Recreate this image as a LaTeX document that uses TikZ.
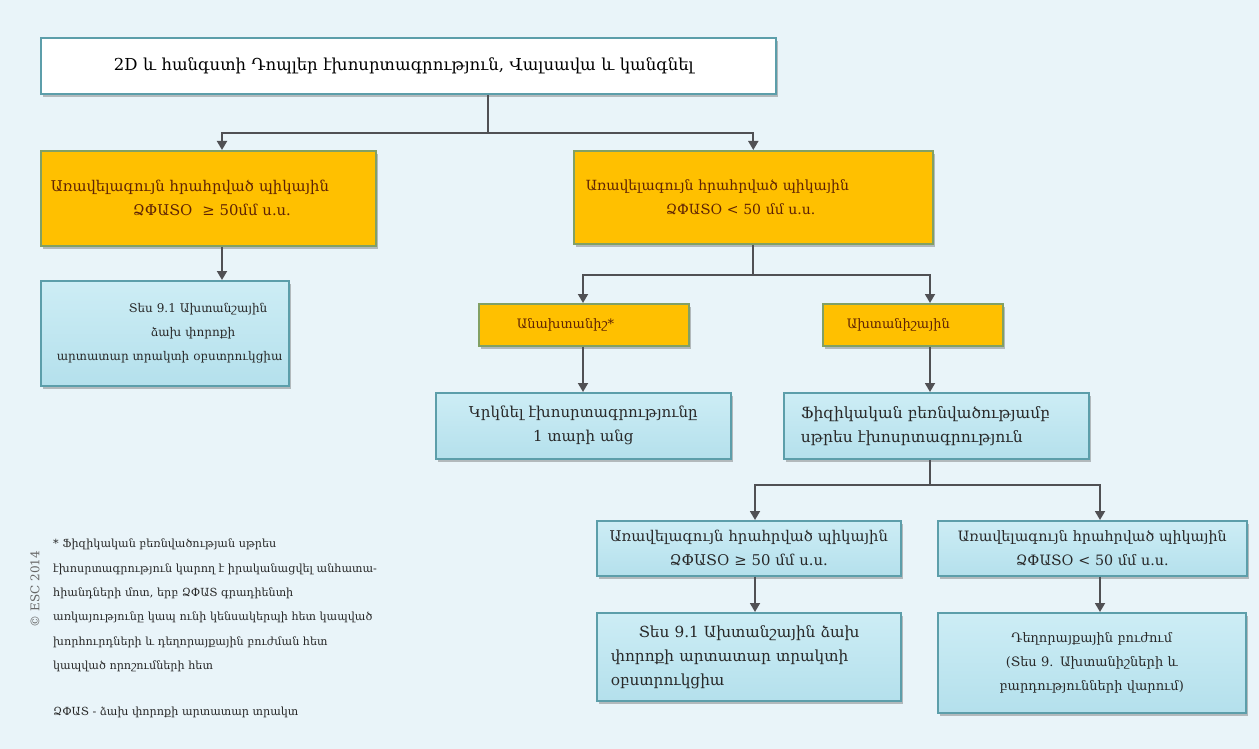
\documentclass[tikz,border=0pt]{standalone}
\usepackage{fontspec}
\setmainfont{DejaVu Serif}
\usetikzlibrary{shadows,arrows.meta}

\definecolor{pagebg}{RGB}{233,244,249}
\definecolor{tealline}{RGB}{92,158,170}
\definecolor{ambfill}{RGB}{255,192,0}
\definecolor{ambline}{RGB}{130,160,100}
\definecolor{ambtext}{RGB}{95,35,5}
\definecolor{bluetop}{RGB}{205,237,245}
\definecolor{bluebot}{RGB}{180,224,236}
\definecolor{bluetext}{RGB}{40,40,40}
\definecolor{linkgray}{RGB}{80,80,84}

\newcommand{\fs}[1]{\fontsize{#1}{24}\selectfont}

\tikzset{
  boxshadow/.style={drop shadow={opacity=0.35,shadow xshift=2pt,shadow yshift=-3pt,fill=black!70}},
  whitebox/.style={draw=tealline,line width=1.6pt,fill=white,boxshadow,
    anchor=north west,inner sep=0pt,align=left},
  ambbox/.style={draw=ambline,line width=1.6pt,fill=ambfill,boxshadow,
    anchor=north west,inner sep=0pt,text=ambtext},
  bluebox/.style={draw=tealline,line width=1.6pt,top color=bluetop,bottom color=bluebot,boxshadow,
    anchor=north west,inner sep=0pt,text=bluetext},
  link/.style={draw=linkgray,line width=1.8pt},
  arrowlink/.style={link,-{Triangle[length=9pt,width=10pt]}},
  notetext/.style={anchor=north west,inner sep=0pt,align=left,text=bluetext,
    font=\fontsize{11.2}{24.3}\selectfont},
}

\begin{document}
\begin{tikzpicture}[x=1pt,y=-1pt]
\fill[pagebg] (0,0) rectangle (1259,749);
\useasboundingbox (0,0) rectangle (1259,749);

% top box
\node[whitebox,minimum width=735pt,minimum height=56pt,text width=735pt,font=\fs{16.5}] (top) at (40,37)
  {\hspace*{73pt}2D և հանգստի Դոպլեր էխոսրտագրություն, Վալսավա և կանգնել};

% first split
\node[ambbox,minimum width=335pt,minimum height=95pt,text width=335pt,align=left,font=\fs{14.8}] (o1) at (40,150)
  {\hspace*{10pt}Առավելագույն հրահրված պիկային\\\hspace*{92pt}ՁՓԱՏՕ ~≥ 50մմ ս.ս.};
\node[ambbox,minimum width=359pt,minimum height=93pt,text width=359pt,align=left,font=\fs{14}] (o2) at (573,150)
  {\hspace*{12pt}Առավելագույն հրահրված պիկային\\\hspace*{92pt}ՁՓԱՏՕ < 50 մմ ս.ս.};

\node[bluebox,minimum width=248pt,minimum height=105pt,text width=248pt,align=left,font=\fs{12}] (b1) at (40,280)
  {\hspace*{88pt}Տես 9.1 Ախտանշային\\\hspace*{110pt}ձախ փորոքի\\\hspace*{16pt}արտատար տրակտի օբստրուկցիա};

% second split
\node[ambbox,minimum width=210pt,minimum height=42pt,text width=210pt,align=left,font=\fs{13}] (s1) at (478,303)
  {\hspace*{38pt}Անախտանիշ*};
\node[ambbox,minimum width=180pt,minimum height=42pt,text width=180pt,align=left,font=\fs{13}] (s2) at (822,303)
  {\hspace*{24pt}Ախտանիշային};

\node[bluebox,minimum width=295pt,minimum height=66pt,text width=295pt,align=center,font=\fs{15}] (b2) at (435,392)
  {Կրկնել էխոսրտագրությունը\\1 տարի անց};
\node[bluebox,minimum width=305pt,minimum height=66pt,text width=305pt,align=left,font=\fs{15.5}] (b3) at (783,392)
  {\hspace*{17pt}Ֆիզիկական բեռնվածությամբ\\\hspace*{17pt}սթրես էխոսրտագրություն};

% third split
\node[bluebox,minimum width=304pt,minimum height=55pt,text width=304pt,align=center,font=\fs{14.8}] (b4) at (596,520)
  {Առավելագույն հրահրված պիկային\\ՁՓԱՏՕ ≥ 50 մմ ս.ս.};
\node[bluebox,minimum width=309pt,minimum height=55pt,text width=309pt,align=center,font=\fs{14.3}] (b5) at (937,520)
  {Առավելագույն հրահրված պիկային\\ՁՓԱՏՕ < 50 մմ ս.ս.};

\node[bluebox,minimum width=304pt,minimum height=88pt,text width=304pt,align=left,font=\fs{15.3}] (b6) at (596,612)
  {\hspace*{42pt}Տես 9.1 Ախտանշային ձախ\\\hspace*{14pt}փորոքի արտատար տրակտի\\\hspace*{14pt}օբստրուկցիա};
\node[bluebox,minimum width=308pt,minimum height=100pt,text width=308pt,align=center,font=\fs{13}] (b7) at (937,612)
  {Դեղորայքային բուժում\\(Տես 9. Ախտանիշների և\\բարդությունների վարում)};

% connectors
\coordinate (j1) at (488,133);
\coordinate (a1) at (222,133);
\draw[link] (top.south -| j1) -- (j1);
\draw[arrowlink] (j1) -- (a1) -- (a1 |- o1.north);
\draw[arrowlink] (j1) -| (o2.north);
\draw[arrowlink] (o1.south -| a1) -- (b1.north -| a1);

\coordinate (j2) at (753,275);
\coordinate (k1) at (583,275);
\coordinate (k2) at (930,275);
\draw[link] (o2.south -| j2) -- (j2);
\draw[arrowlink] (j2) -- (k1) -- (k1 |- s1.north);
\draw[arrowlink] (j2) -- (k2) -- (k2 |- s2.north);
\draw[arrowlink] (s1.south -| k1) -- (b2.north -| k1);
\draw[arrowlink] (s2.south -| k2) -- (b3.north -| k2);

\coordinate (j3) at (930,485);
\coordinate (m1) at (755,485);
\coordinate (m2) at (1100,485);
\draw[link] (b3.south -| j3) -- (j3);
\draw[arrowlink] (j3) -- (m1) -- (m1 |- b4.north);
\draw[arrowlink] (j3) -- (m2) -- (m2 |- b5.north);
\draw[arrowlink] (b4.south -| m1) -- (b6.north -| m1);
\draw[arrowlink] (b5.south -| m2) -- (b7.north -| m2);

% footnote and copyright
\node[notetext] (note) at (53,539)
  {* Ֆիզիկական բեռնվածության սթրես\\
   էխոսրտագրություն կարող է իրականացվել անհատա-\\
   հիանդների մոտ, երբ ՁՓԱՏ գրադիենտի\\
   առկայությունը կապ ունի կենսակերպի հետ կապված\\
   խորհուրդների և դեղորայքային բուժման հետ\\
   կապված որոշումների հետ};
\node[notetext] (abbr) at (53,707) {ՁՓԱՏ - ձախ փորոքի արտատար տրակտ};
\node[rotate=90,inner sep=0pt,text=black!60,font=\fontsize{12}{14}\selectfont] (copy) at (35,589) {© ESC 2014};
\end{tikzpicture}
\end{document}
